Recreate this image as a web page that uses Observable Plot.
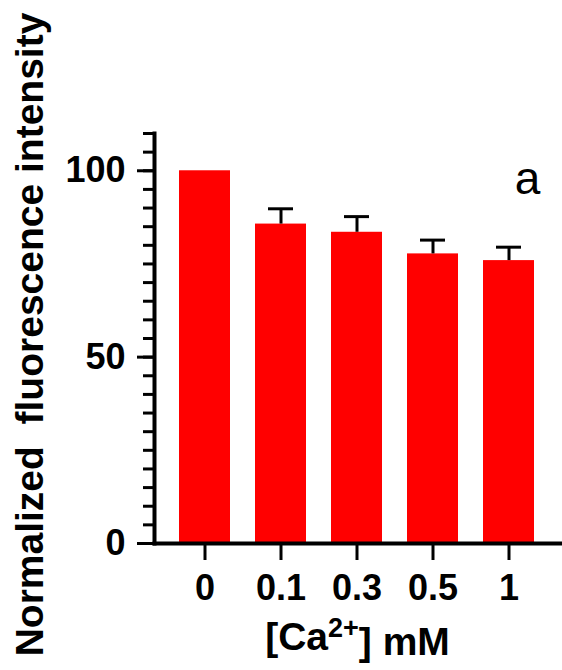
<!DOCTYPE html>
<html>
<head>
<meta charset="utf-8">
<script src="https://cdn.jsdelivr.net/npm/d3@7"></script>
<script src="https://cdn.jsdelivr.net/npm/@observablehq/plot@0.6"></script>
<style>
  html, body { margin: 0; padding: 0; background: #fff; }
</style>
</head>
<body>
<div id="chart"></div>
<script>
const categories = ["0", "0.1", "0.3", "0.5", "1"];
const values = [100, 85.7, 83.5, 77.7, 75.9];
const errors = [0, 4.1, 4.2, 3.7, 3.6];
const majorTicks = [0, 50, 100];
const minorTicks = d3.range(0, 111, 5);
const yLabel = "Normalized  fluorescence intensity";
const xLabel = "[Ca2+] mM";
const panelLetter = "a";

const data = categories.map((c, i) => ({c, v: values[i], e: errors[i]}));
const errData = data.filter(d => d.e > 0);

const font = "Liberation Sans, Arial, sans-serif";

const chart = Plot.plot({
  width: 562,
  height: 670,
  marginLeft: 154,
  marginRight: 2,
  marginTop: 133,
  marginBottom: 127,
  style: {fontFamily: font, fontSize: "36px", fontWeight: "bold", color: "#000", background: "#fff"},
  x: {domain: categories, paddingInner: 0.325, paddingOuter: 0.3, axis: null},
  y: {domain: [0, 110], axis: null},
  marks: [
    Plot.barY(data, {x: "c", y: "v", fill: "#ff0000"}),
    Plot.ruleX(errData, {x: "c", y1: "v", y2: d => d.v + d.e, stroke: "#000", strokeWidth: 3}),
    Plot.tickY(errData, {x: "c", y: d => d.v + d.e, stroke: "#000", strokeWidth: 3, insetLeft: 13, insetRight: 13}),
    Plot.axisY(minorTicks, {tickSize: 11, strokeWidth: 3, text: null, label: null}),
    Plot.axisY(majorTicks, {tickSize: 17, tickPadding: 12, strokeWidth: 3, fontSize: 36, fontWeight: "bold", label: null}),
    Plot.axisX({tickSize: 17, tickPadding: 14, strokeWidth: 3, fontSize: 36, fontWeight: "bold", label: null}),
    Plot.frame({anchor: "left", strokeWidth: 4}),
    Plot.frame({anchor: "bottom", strokeWidth: 4}),
    Plot.text([yLabel], {frameAnchor: "left", rotate: -90, dx: -124, dy: -4, textAnchor: "middle", fontSize: 39, fontWeight: "bold", text: d => d}),
    Plot.text([xLabel], {frameAnchor: "bottom", dy: 106, fontSize: 39, fontWeight: "bold", text: d => d}),
    Plot.text([panelLetter], {frameAnchor: "top-right", dx: -33, dy: 28, fontSize: 46, fontWeight: "normal", fontFamily: "Liberation Sans Narrow, Liberation Sans, sans-serif", textAnchor: "middle", text: d => d})
  ]
});

document.getElementById("chart").appendChild(chart);

// superscript for the x label
d3.select(chart).selectAll("text").each(function() {
  const t = d3.select(this);
  if (t.text() === xLabel) {
    t.text(null);
    t.append("tspan").text("[Ca");
    t.append("tspan").attr("dy", "-0.45em").attr("font-size", "27px").text("2+");
    t.append("tspan").attr("dy", "0.45em").text("] mM");
  }
});
</script>
</body>
</html>
